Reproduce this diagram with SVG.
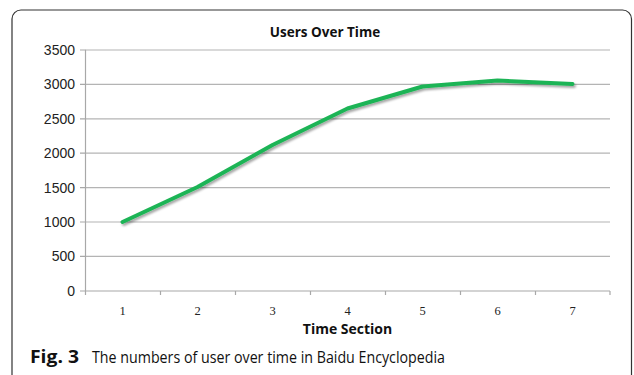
<svg xmlns="http://www.w3.org/2000/svg" width="634" height="375" viewBox="0 0 634 375">
<style>
.grid{stroke:#b4b4b4;stroke-width:1.2;fill:none}
.axis{stroke:#a8a8a8;stroke-width:1.2;fill:none}
.ylab{font-family:"Liberation Sans",Arial,sans-serif;font-size:14px;fill:#222;text-anchor:end}
.xlab{font-family:"Liberation Serif","Times New Roman",serif;font-size:12.5px;fill:#222;text-anchor:middle}
.ttl{font-family:"Open Sans","Liberation Sans",sans-serif;font-weight:bold;font-size:13.5px;fill:#111;text-anchor:middle}
.cap{font-family:"Open Sans","Liberation Sans",sans-serif;font-size:17px;fill:#111}
</style>
<defs>
<filter id="sh" x="-10%" y="-20%" width="120%" height="140%">
<feDropShadow dx="1.5" dy="2" stdDeviation="1.2" flood-color="#000" flood-opacity="0.35"/>
</filter>
</defs>
<rect x="0" y="0" width="634" height="375" fill="#fff"/>
<rect x="12" y="10" width="619.5" height="375" rx="9" ry="9" fill="none" stroke="#333" stroke-width="1.2"/>
<g id="gridlines">
<line class="grid" x1="85" y1="50" x2="610" y2="50"/>
<line class="grid" x1="85" y1="84.4" x2="610" y2="84.4"/>
<line class="grid" x1="85" y1="118.8" x2="610" y2="118.8"/>
<line class="grid" x1="85" y1="153.2" x2="610" y2="153.2"/>
<line class="grid" x1="85" y1="187.6" x2="610" y2="187.6"/>
<line class="grid" x1="85" y1="222" x2="610" y2="222"/>
<line class="grid" x1="85" y1="256.4" x2="610" y2="256.4"/>
</g>
<g id="axes">
<line class="axis" x1="85.5" y1="50" x2="85.5" y2="291"/>
<line class="axis" x1="85" y1="291" x2="610" y2="291"/>
<path class="axis" d="M80 50H85.5M80 84.4H85.5M80 118.8H85.5M80 153.2H85.5M80 187.6H85.5M80 222H85.5M80 256.4H85.5M80 291H85.5"/>
<path class="axis" d="M85.5 291V295M160.5 291V295M235.5 291V295M310.5 291V295M385.5 291V295M460.5 291V295M535.5 291V295M610 291V295"/>
</g>
<g id="ylabels">
<text class="ylab" x="75" y="55">3500</text>
<text class="ylab" x="75" y="89.4">3000</text>
<text class="ylab" x="75" y="123.8">2500</text>
<text class="ylab" x="75" y="158.2">2000</text>
<text class="ylab" x="75" y="192.6">1500</text>
<text class="ylab" x="75" y="227">1000</text>
<text class="ylab" x="75" y="261.4">500</text>
<text class="ylab" x="75" y="296">0</text>
</g>
<g id="xlabels">
<text class="xlab" x="122.5" y="315">1</text>
<text class="xlab" x="197.5" y="315">2</text>
<text class="xlab" x="272.5" y="315">3</text>
<text class="xlab" x="347.5" y="315">4</text>
<text class="xlab" x="422.5" y="315">5</text>
<text class="xlab" x="497.5" y="315">6</text>
<text class="xlab" x="572.5" y="315">7</text>
</g>
<text id="title" class="ttl" x="325" y="37">Users Over Time</text>
<text id="xtitle" class="ttl" x="347.5" y="334" style="font-size:14px">Time Section</text>
<g id="series">
<polyline points="122.5,222 197.5,187 272.5,145 347.5,108.5 422.5,86.5 497.5,80.5 572.5,84" fill="none" stroke="#1fb456" stroke-width="4" stroke-linejoin="round" stroke-linecap="round" filter="url(#sh)"/>
</g>
<g id="caption">
<text class="cap" x="30" y="363" font-weight="bold" textLength="49" lengthAdjust="spacingAndGlyphs">Fig. 3</text>
<text class="cap" x="92" y="363" textLength="353" lengthAdjust="spacingAndGlyphs">The numbers of user over time in Baidu Encyclopedia</text>
</g>
</svg>
